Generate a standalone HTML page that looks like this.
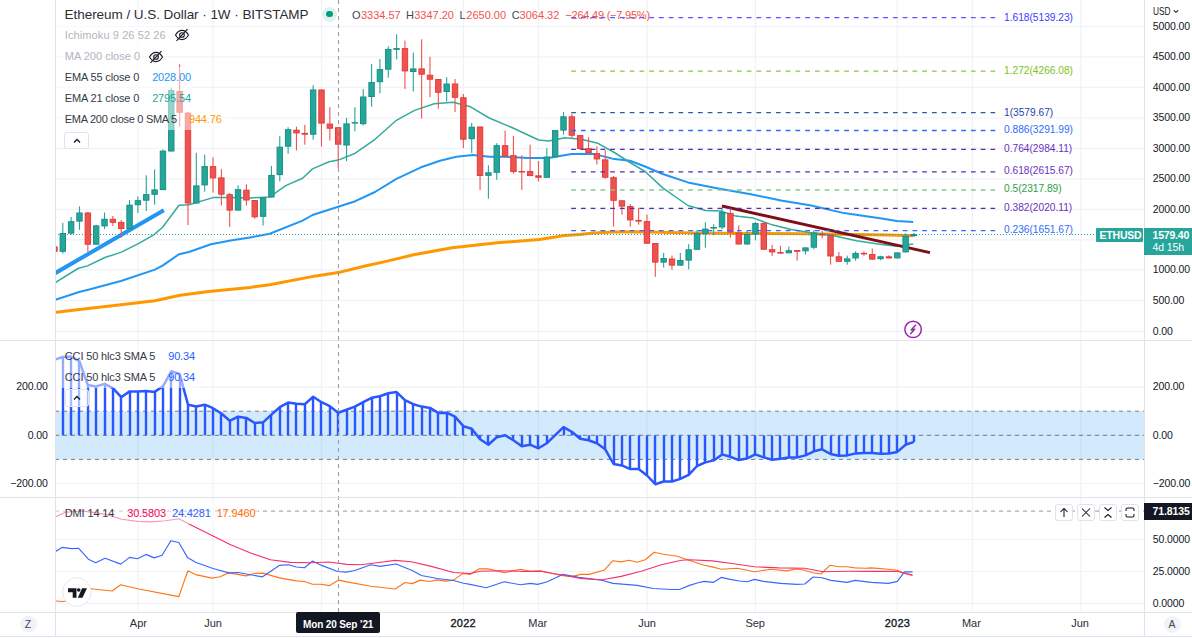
<!DOCTYPE html>
<html><head><meta charset="utf-8"><style>
html,body{margin:0;padding:0;background:#fff;width:1192px;height:638px;overflow:hidden;}
body{position:relative;font-family:"Liberation Sans",sans-serif;color:#131722;}
.t{position:absolute;white-space:nowrap;line-height:1;}
.ax{font-size:10.5px;letter-spacing:-0.1px;color:#131722;}
.lg{position:absolute;white-space:nowrap;font-size:11px;color:#363a45;line-height:21px;height:21px;background:rgba(255,255,255,0.5);padding:0 3px 0 9px;letter-spacing:-0.15px;}
.btn{position:absolute;box-sizing:border-box;border:1px solid #e0e3eb;border-radius:3px;background:rgba(255,255,255,0.6);}
</style></head><body>

<svg width="1192" height="638" style="position:absolute;left:0;top:0">
<defs><clipPath id="cm"><rect x="56" y="0" width="1088" height="340"/></clipPath><clipPath id="cc"><rect x="56" y="341" width="1088" height="156"/></clipPath><clipPath id="cd"><rect x="56" y="498" width="1088" height="114"/></clipPath></defs>
<g stroke="#f1f2f5" stroke-width="1.2">
<line x1="137.9" y1="0" x2="137.9" y2="612"/>
<line x1="213.0" y1="0" x2="213.0" y2="612"/>
<line x1="321.5" y1="0" x2="321.5" y2="612"/>
<line x1="463.4" y1="0" x2="463.4" y2="612"/>
<line x1="538.5" y1="0" x2="538.5" y2="612"/>
<line x1="647.0" y1="0" x2="647.0" y2="612"/>
<line x1="755.4" y1="0" x2="755.4" y2="612"/>
<line x1="897.3" y1="0" x2="897.3" y2="612"/>
<line x1="972.4" y1="0" x2="972.4" y2="612"/>
<line x1="1080.9" y1="0" x2="1080.9" y2="612"/>
<line x1="55" y1="26.5" x2="1144" y2="26.5"/>
<line x1="55" y1="56.8" x2="1144" y2="56.8"/>
<line x1="55" y1="87.4" x2="1144" y2="87.4"/>
<line x1="55" y1="118.0" x2="1144" y2="118.0"/>
<line x1="55" y1="148.4" x2="1144" y2="148.4"/>
<line x1="55" y1="178.8" x2="1144" y2="178.8"/>
<line x1="55" y1="209.4" x2="1144" y2="209.4"/>
<line x1="55" y1="239.8" x2="1144" y2="239.8"/>
<line x1="55" y1="269.9" x2="1144" y2="269.9"/>
<line x1="55" y1="300.6" x2="1144" y2="300.6"/>
<line x1="55" y1="331.3" x2="1144" y2="331.3"/>
<line x1="55" y1="387.2" x2="1144" y2="387.2"/>
<line x1="55" y1="435.3" x2="1144" y2="435.3"/>
<line x1="55" y1="483.5" x2="1144" y2="483.5"/>
<line x1="55" y1="539.5" x2="1144" y2="539.5"/>
<line x1="55" y1="571.5" x2="1144" y2="571.5"/>
<line x1="55" y1="603.4" x2="1144" y2="603.4"/>
</g>
<rect x="56" y="411.2" width="1088" height="48.2" fill="rgba(33,150,243,0.2)"/>
<line x1="55" y1="411.2" x2="1144" y2="411.2" stroke="#787b86" stroke-width="1" stroke-dasharray="4 4"/>
<line x1="55" y1="435.3" x2="1144" y2="435.3" stroke="#787b86" stroke-width="1" stroke-dasharray="4 4"/>
<line x1="55" y1="459.4" x2="1144" y2="459.4" stroke="#787b86" stroke-width="1" stroke-dasharray="4 4"/>
<g clip-path="url(#cm)">
<polyline points="55.0,312.4 56.1,312.2 88.0,308.4 120.9,304.7 154.9,300.7 180.1,295.3 208.7,291.5 250.0,287.4 269.7,284.7 315.8,275.9 338.2,272.6 365.1,266.0 385.0,261.6 413.6,254.8 452.1,247.8 497.4,242.8 539.4,239.4 564.6,235.6 580.0,234.4 593.6,233.0 613.7,232.1 643.2,231.8 667.4,232.5 694.2,233.0 720.0,233.2 803.9,233.7 887.8,235.1 913.0,235.8" fill="none" stroke="#ff9800" stroke-width="3" stroke-linejoin="round"/>
<polyline points="55.0,300.0 56.1,299.6 79.1,292.0 90.1,289.3 120.9,281.0 154.9,269.6 162.6,265.6 179.0,254.2 188.9,252.0 210.9,244.3 230.6,240.4 250.0,237.4 269.7,233.8 302.6,220.6 312.5,215.0 338.2,206.8 355.3,201.2 375.0,192.0 396.4,178.8 421.0,167.3 440.0,160.7 456.4,156.8 472.9,155.1 489.3,156.8 505.8,156.8 528.8,158.1 548.6,158.1 571.6,154.1 594.6,154.1 614.3,159.1 630.0,160.7 645.1,166.5 662.7,174.0 687.9,182.4 718.1,188.4 750.8,194.2 781.0,200.5 811.2,205.5 843.9,213.1 881.7,218.6 896.8,221.1 913.2,221.9" fill="none" stroke="#2196f3" stroke-width="2" stroke-linejoin="round"/>
<polyline points="55.0,283.0 56.1,282.1 78.0,268.5 88.0,265.6 105.5,257.3 120.9,252.4 138.4,243.7 153.8,234.9 162.6,227.2 179.0,205.2 188.9,204.8 213.0,197.6 230.6,197.6 250.0,197.9 269.7,196.9 286.2,185.4 302.6,178.2 312.5,168.9 329.0,161.7 338.2,160.1 355.3,153.2 375.0,139.3 396.4,120.3 414.5,110.4 434.2,103.8 453.2,102.2 469.6,106.4 489.3,118.0 512.4,127.8 538.7,140.0 548.6,141.0 565.0,137.7 581.4,139.3 597.9,143.3 614.3,152.5 630.8,163.0 645.1,171.5 662.7,187.9 687.9,205.5 705.5,210.5 720.6,211.0 735.7,216.1 753.3,218.1 771.0,224.4 791.1,229.4 811.2,232.7 831.4,235.2 856.5,240.7 881.7,244.5 896.8,246.3 913.2,244.0" fill="none" stroke="#33ab9d" stroke-width="1.5" stroke-linejoin="round"/>
</g>
<line x1="55" y1="234.5" x2="1144" y2="234.5" stroke="#26a69a" stroke-width="1" stroke-dasharray="1 2"/>
<g clip-path="url(#cm)"><line x1="56.8" y1="272.2" x2="162.1" y2="211.2" stroke="#2196f3" stroke-width="4" stroke-linecap="square"/></g>
<line x1="721.9" y1="206" x2="930" y2="252.6" stroke="#7f0f14" stroke-width="3"/>
<g clip-path="url(#cm)">
<rect x="53.91" y="240.0" width="1.1" height="12.0" fill="#ef5350"/>
<rect x="51.75" y="246.9" width="5.4" height="4.4" fill="#ef5350" stroke="#e23c3a" stroke-width="1"/>
<rect x="62.25" y="222.8" width="1.1" height="30.8" fill="#26a69a"/>
<rect x="60.10" y="233.5" width="5.4" height="17.8" fill="#26a69a" stroke="#1a9084" stroke-width="1"/>
<rect x="70.59" y="217.0" width="1.1" height="17.8" fill="#26a69a"/>
<rect x="68.44" y="221.7" width="5.4" height="11.4" fill="#26a69a" stroke="#1a9084" stroke-width="1"/>
<rect x="78.94" y="206.4" width="1.1" height="23.5" fill="#26a69a"/>
<rect x="76.79" y="213.0" width="5.4" height="8.1" fill="#26a69a" stroke="#1a9084" stroke-width="1"/>
<rect x="87.29" y="212.0" width="1.1" height="39.8" fill="#ef5350"/>
<rect x="85.14" y="213.0" width="5.4" height="31.2" fill="#ef5350" stroke="#e23c3a" stroke-width="1"/>
<rect x="95.63" y="224.7" width="1.1" height="20.0" fill="#26a69a"/>
<rect x="93.48" y="225.9" width="5.4" height="18.3" fill="#26a69a" stroke="#1a9084" stroke-width="1"/>
<rect x="103.98" y="212.5" width="1.1" height="16.5" fill="#26a69a"/>
<rect x="101.83" y="219.3" width="5.4" height="6.6" fill="#26a69a" stroke="#1a9084" stroke-width="1"/>
<rect x="112.32" y="216.0" width="1.1" height="9.9" fill="#ef5350"/>
<rect x="110.17" y="219.3" width="5.4" height="3.0" fill="#ef5350" stroke="#e23c3a" stroke-width="1"/>
<rect x="120.67" y="220.0" width="1.1" height="17.6" fill="#ef5350"/>
<rect x="118.52" y="222.4" width="5.4" height="6.1" fill="#ef5350" stroke="#e23c3a" stroke-width="1"/>
<rect x="129.01" y="200.0" width="1.1" height="29.0" fill="#26a69a"/>
<rect x="126.86" y="205.2" width="5.4" height="23.3" fill="#26a69a" stroke="#1a9084" stroke-width="1"/>
<rect x="137.35" y="196.5" width="1.1" height="16.5" fill="#26a69a"/>
<rect x="135.21" y="200.7" width="5.4" height="4.0" fill="#26a69a" stroke="#1a9084" stroke-width="1"/>
<rect x="145.70" y="175.3" width="1.1" height="35.7" fill="#26a69a"/>
<rect x="143.55" y="194.6" width="5.4" height="5.6" fill="#26a69a" stroke="#1a9084" stroke-width="1"/>
<rect x="154.04" y="169.4" width="1.1" height="35.3" fill="#26a69a"/>
<rect x="151.90" y="189.9" width="5.4" height="4.4" fill="#26a69a" stroke="#1a9084" stroke-width="1"/>
<rect x="162.39" y="149.4" width="1.1" height="40.7" fill="#26a69a"/>
<rect x="160.24" y="151.1" width="5.4" height="38.5" fill="#26a69a" stroke="#1a9084" stroke-width="1"/>
<rect x="170.74" y="87.6" width="1.1" height="63.9" fill="#26a69a"/>
<rect x="168.59" y="90.5" width="5.4" height="60.5" fill="#26a69a" stroke="#1a9084" stroke-width="1"/>
<rect x="179.08" y="64.2" width="1.1" height="62.3" fill="#ef5350"/>
<rect x="176.93" y="91.5" width="5.4" height="20.7" fill="#ef5350" stroke="#e23c3a" stroke-width="1"/>
<rect x="187.43" y="112.0" width="1.1" height="113.1" fill="#ef5350"/>
<rect x="185.28" y="113.1" width="5.4" height="89.9" fill="#ef5350" stroke="#e23c3a" stroke-width="1"/>
<rect x="195.77" y="152.8" width="1.1" height="50.7" fill="#26a69a"/>
<rect x="193.62" y="185.9" width="5.4" height="17.1" fill="#26a69a" stroke="#1a9084" stroke-width="1"/>
<rect x="204.12" y="154.6" width="1.1" height="37.1" fill="#26a69a"/>
<rect x="201.97" y="166.6" width="5.4" height="18.3" fill="#26a69a" stroke="#1a9084" stroke-width="1"/>
<rect x="212.46" y="157.3" width="1.1" height="35.2" fill="#ef5350"/>
<rect x="210.31" y="166.6" width="5.4" height="11.3" fill="#ef5350" stroke="#e23c3a" stroke-width="1"/>
<rect x="220.81" y="169.1" width="1.1" height="36.4" fill="#ef5350"/>
<rect x="218.66" y="177.9" width="5.4" height="16.3" fill="#ef5350" stroke="#e23c3a" stroke-width="1"/>
<rect x="229.15" y="193.0" width="1.1" height="33.9" fill="#ef5350"/>
<rect x="227.00" y="194.7" width="5.4" height="15.4" fill="#ef5350" stroke="#e23c3a" stroke-width="1"/>
<rect x="237.50" y="185.4" width="1.1" height="25.2" fill="#26a69a"/>
<rect x="235.35" y="189.7" width="5.4" height="20.4" fill="#26a69a" stroke="#1a9084" stroke-width="1"/>
<rect x="245.84" y="184.2" width="1.1" height="21.3" fill="#ef5350"/>
<rect x="243.69" y="190.2" width="5.4" height="9.8" fill="#ef5350" stroke="#e23c3a" stroke-width="1"/>
<rect x="254.19" y="200.0" width="1.1" height="18.8" fill="#ef5350"/>
<rect x="252.04" y="200.5" width="5.4" height="16.3" fill="#ef5350" stroke="#e23c3a" stroke-width="1"/>
<rect x="262.53" y="197.5" width="1.1" height="28.1" fill="#26a69a"/>
<rect x="260.38" y="198.0" width="5.4" height="18.3" fill="#26a69a" stroke="#1a9084" stroke-width="1"/>
<rect x="270.88" y="166.0" width="1.1" height="31.5" fill="#26a69a"/>
<rect x="268.73" y="175.4" width="5.4" height="21.6" fill="#26a69a" stroke="#1a9084" stroke-width="1"/>
<rect x="279.22" y="136.2" width="1.1" height="45.2" fill="#26a69a"/>
<rect x="277.07" y="147.2" width="5.4" height="27.4" fill="#26a69a" stroke="#1a9084" stroke-width="1"/>
<rect x="287.56" y="127.2" width="1.1" height="26.6" fill="#26a69a"/>
<rect x="285.42" y="129.7" width="5.4" height="16.5" fill="#26a69a" stroke="#1a9084" stroke-width="1"/>
<rect x="295.91" y="126.7" width="1.1" height="23.8" fill="#ef5350"/>
<rect x="293.76" y="130.2" width="5.4" height="2.7" fill="#ef5350" stroke="#e23c3a" stroke-width="1"/>
<rect x="304.25" y="124.9" width="1.1" height="19.8" fill="#ef5350"/>
<rect x="301.61" y="132.9" width="6.4" height="1.8" fill="#e23c3a"/>
<rect x="312.60" y="85.2" width="1.1" height="54.5" fill="#26a69a"/>
<rect x="310.45" y="90.0" width="5.4" height="44.2" fill="#26a69a" stroke="#1a9084" stroke-width="1"/>
<rect x="320.94" y="89.5" width="1.1" height="57.2" fill="#ef5350"/>
<rect x="318.80" y="90.0" width="5.4" height="33.1" fill="#ef5350" stroke="#e23c3a" stroke-width="1"/>
<rect x="329.29" y="107.1" width="1.1" height="33.4" fill="#ef5350"/>
<rect x="327.14" y="124.1" width="5.4" height="4.1" fill="#ef5350" stroke="#e23c3a" stroke-width="1"/>
<rect x="337.64" y="127.2" width="1.1" height="40.9" fill="#ef5350"/>
<rect x="335.49" y="127.7" width="5.4" height="16.5" fill="#ef5350" stroke="#e23c3a" stroke-width="1"/>
<rect x="345.98" y="117.9" width="1.1" height="43.2" fill="#26a69a"/>
<rect x="343.83" y="123.9" width="5.4" height="21.1" fill="#26a69a" stroke="#1a9084" stroke-width="1"/>
<rect x="354.33" y="107.1" width="1.1" height="24.1" fill="#26a69a"/>
<rect x="351.68" y="122.1" width="6.4" height="1.5" fill="#1a9084"/>
<rect x="362.67" y="89.0" width="1.1" height="36.4" fill="#26a69a"/>
<rect x="360.52" y="97.0" width="5.4" height="26.7" fill="#26a69a" stroke="#1a9084" stroke-width="1"/>
<rect x="371.02" y="63.9" width="1.1" height="42.7" fill="#26a69a"/>
<rect x="368.87" y="82.5" width="5.4" height="14.0" fill="#26a69a" stroke="#1a9084" stroke-width="1"/>
<rect x="379.36" y="58.9" width="1.1" height="34.5" fill="#26a69a"/>
<rect x="377.21" y="69.6" width="5.4" height="12.1" fill="#26a69a" stroke="#1a9084" stroke-width="1"/>
<rect x="387.71" y="46.3" width="1.1" height="31.4" fill="#26a69a"/>
<rect x="385.56" y="49.4" width="5.4" height="19.8" fill="#26a69a" stroke="#1a9084" stroke-width="1"/>
<rect x="396.05" y="34.3" width="1.1" height="25.1" fill="#26a69a"/>
<rect x="393.40" y="48.1" width="6.4" height="1.8" fill="#1a9084"/>
<rect x="404.40" y="40.6" width="1.1" height="48.4" fill="#ef5350"/>
<rect x="402.25" y="48.6" width="5.4" height="22.3" fill="#ef5350" stroke="#e23c3a" stroke-width="1"/>
<rect x="412.74" y="52.6" width="1.1" height="38.9" fill="#26a69a"/>
<rect x="410.59" y="68.9" width="5.4" height="2.6" fill="#26a69a" stroke="#1a9084" stroke-width="1"/>
<rect x="421.09" y="39.3" width="1.1" height="79.3" fill="#ef5350"/>
<rect x="418.94" y="68.9" width="5.4" height="5.3" fill="#ef5350" stroke="#e23c3a" stroke-width="1"/>
<rect x="429.43" y="56.9" width="1.1" height="40.2" fill="#ef5350"/>
<rect x="427.28" y="75.2" width="5.4" height="4.0" fill="#ef5350" stroke="#e23c3a" stroke-width="1"/>
<rect x="437.78" y="79.0" width="1.1" height="29.6" fill="#ef5350"/>
<rect x="435.63" y="79.5" width="5.4" height="12.8" fill="#ef5350" stroke="#e23c3a" stroke-width="1"/>
<rect x="446.12" y="77.2" width="1.1" height="24.4" fill="#26a69a"/>
<rect x="443.97" y="84.0" width="5.4" height="7.5" fill="#26a69a" stroke="#1a9084" stroke-width="1"/>
<rect x="454.47" y="79.0" width="1.1" height="33.1" fill="#ef5350"/>
<rect x="452.32" y="84.0" width="5.4" height="13.3" fill="#ef5350" stroke="#e23c3a" stroke-width="1"/>
<rect x="462.81" y="94.0" width="1.1" height="54.0" fill="#ef5350"/>
<rect x="460.66" y="97.8" width="5.4" height="41.4" fill="#ef5350" stroke="#e23c3a" stroke-width="1"/>
<rect x="471.16" y="122.9" width="1.1" height="30.1" fill="#26a69a"/>
<rect x="469.01" y="127.2" width="5.4" height="11.5" fill="#26a69a" stroke="#1a9084" stroke-width="1"/>
<rect x="479.50" y="126.5" width="1.1" height="63.4" fill="#ef5350"/>
<rect x="477.35" y="127.0" width="5.4" height="48.5" fill="#ef5350" stroke="#e23c3a" stroke-width="1"/>
<rect x="487.85" y="165.3" width="1.1" height="33.4" fill="#26a69a"/>
<rect x="485.70" y="172.8" width="5.4" height="2.5" fill="#26a69a" stroke="#1a9084" stroke-width="1"/>
<rect x="496.19" y="143.2" width="1.1" height="36.6" fill="#26a69a"/>
<rect x="494.04" y="145.7" width="5.4" height="26.6" fill="#26a69a" stroke="#1a9084" stroke-width="1"/>
<rect x="504.54" y="130.6" width="1.1" height="27.1" fill="#ef5350"/>
<rect x="502.39" y="145.7" width="5.4" height="10.3" fill="#ef5350" stroke="#e23c3a" stroke-width="1"/>
<rect x="512.88" y="135.9" width="1.1" height="37.7" fill="#ef5350"/>
<rect x="510.73" y="155.7" width="5.4" height="15.8" fill="#ef5350" stroke="#e23c3a" stroke-width="1"/>
<rect x="521.23" y="155.2" width="1.1" height="34.7" fill="#ef5350"/>
<rect x="518.57" y="171.0" width="6.4" height="1.5" fill="#e23c3a"/>
<rect x="529.57" y="144.7" width="1.1" height="31.4" fill="#ef5350"/>
<rect x="527.42" y="171.5" width="5.4" height="4.1" fill="#ef5350" stroke="#e23c3a" stroke-width="1"/>
<rect x="537.92" y="161.0" width="1.1" height="20.6" fill="#ef5350"/>
<rect x="535.26" y="175.3" width="6.4" height="2.5" fill="#e23c3a"/>
<rect x="546.26" y="148.2" width="1.1" height="29.6" fill="#26a69a"/>
<rect x="544.11" y="157.0" width="5.4" height="20.3" fill="#26a69a" stroke="#1a9084" stroke-width="1"/>
<rect x="554.61" y="130.1" width="1.1" height="27.1" fill="#26a69a"/>
<rect x="552.45" y="130.6" width="5.4" height="26.1" fill="#26a69a" stroke="#1a9084" stroke-width="1"/>
<rect x="562.95" y="112.0" width="1.1" height="22.6" fill="#26a69a"/>
<rect x="560.80" y="116.8" width="5.4" height="13.3" fill="#26a69a" stroke="#1a9084" stroke-width="1"/>
<rect x="571.30" y="113.8" width="1.1" height="23.9" fill="#ef5350"/>
<rect x="569.14" y="116.8" width="5.4" height="18.4" fill="#ef5350" stroke="#e23c3a" stroke-width="1"/>
<rect x="579.64" y="135.1" width="1.1" height="14.9" fill="#ef5350"/>
<rect x="577.49" y="135.6" width="5.4" height="12.9" fill="#ef5350" stroke="#e23c3a" stroke-width="1"/>
<rect x="587.99" y="137.2" width="1.1" height="16.8" fill="#ef5350"/>
<rect x="585.83" y="148.7" width="5.4" height="4.0" fill="#ef5350" stroke="#e23c3a" stroke-width="1"/>
<rect x="596.33" y="146.3" width="1.1" height="18.1" fill="#ef5350"/>
<rect x="594.18" y="153.6" width="5.4" height="5.3" fill="#ef5350" stroke="#e23c3a" stroke-width="1"/>
<rect x="604.68" y="150.1" width="1.1" height="28.4" fill="#ef5350"/>
<rect x="602.52" y="159.9" width="5.4" height="17.3" fill="#ef5350" stroke="#e23c3a" stroke-width="1"/>
<rect x="613.02" y="176.0" width="1.1" height="50.7" fill="#ef5350"/>
<rect x="610.87" y="177.7" width="5.4" height="22.6" fill="#ef5350" stroke="#e23c3a" stroke-width="1"/>
<rect x="621.37" y="200.3" width="1.1" height="14.3" fill="#ef5350"/>
<rect x="619.21" y="200.8" width="5.4" height="5.3" fill="#ef5350" stroke="#e23c3a" stroke-width="1"/>
<rect x="629.71" y="204.1" width="1.1" height="22.6" fill="#ef5350"/>
<rect x="627.56" y="206.6" width="5.4" height="13.3" fill="#ef5350" stroke="#e23c3a" stroke-width="1"/>
<rect x="638.06" y="207.8" width="1.1" height="16.9" fill="#ef5350"/>
<rect x="635.40" y="219.9" width="6.4" height="1.7" fill="#e23c3a"/>
<rect x="646.40" y="214.6" width="1.1" height="29.1" fill="#ef5350"/>
<rect x="644.25" y="221.6" width="5.4" height="21.6" fill="#ef5350" stroke="#e23c3a" stroke-width="1"/>
<rect x="654.75" y="243.0" width="1.1" height="33.9" fill="#ef5350"/>
<rect x="652.59" y="243.5" width="5.4" height="18.6" fill="#ef5350" stroke="#e23c3a" stroke-width="1"/>
<rect x="663.09" y="253.0" width="1.1" height="14.6" fill="#26a69a"/>
<rect x="660.94" y="258.5" width="5.4" height="3.6" fill="#26a69a" stroke="#1a9084" stroke-width="1"/>
<rect x="671.44" y="255.5" width="1.1" height="14.3" fill="#ef5350"/>
<rect x="669.28" y="259.0" width="5.4" height="6.1" fill="#ef5350" stroke="#e23c3a" stroke-width="1"/>
<rect x="679.78" y="253.0" width="1.1" height="13.0" fill="#26a69a"/>
<rect x="677.63" y="260.5" width="5.4" height="4.6" fill="#26a69a" stroke="#1a9084" stroke-width="1"/>
<rect x="688.12" y="244.2" width="1.1" height="25.1" fill="#26a69a"/>
<rect x="685.97" y="249.8" width="5.4" height="10.3" fill="#26a69a" stroke="#1a9084" stroke-width="1"/>
<rect x="696.47" y="229.9" width="1.1" height="19.9" fill="#26a69a"/>
<rect x="694.32" y="233.4" width="5.4" height="15.9" fill="#26a69a" stroke="#1a9084" stroke-width="1"/>
<rect x="704.82" y="222.3" width="1.1" height="25.4" fill="#26a69a"/>
<rect x="702.66" y="229.1" width="5.4" height="4.4" fill="#26a69a" stroke="#1a9084" stroke-width="1"/>
<rect x="713.16" y="224.2" width="1.1" height="10.9" fill="#26a69a"/>
<rect x="710.51" y="227.0" width="6.4" height="1.6" fill="#1a9084"/>
<rect x="721.50" y="208.2" width="1.1" height="21.1" fill="#26a69a"/>
<rect x="719.35" y="212.6" width="5.4" height="14.4" fill="#26a69a" stroke="#1a9084" stroke-width="1"/>
<rect x="729.85" y="209.0" width="1.1" height="28.7" fill="#ef5350"/>
<rect x="727.70" y="213.4" width="5.4" height="18.6" fill="#ef5350" stroke="#e23c3a" stroke-width="1"/>
<rect x="738.20" y="225.4" width="1.1" height="19.1" fill="#ef5350"/>
<rect x="736.04" y="233.0" width="5.4" height="11.0" fill="#ef5350" stroke="#e23c3a" stroke-width="1"/>
<rect x="746.54" y="230.9" width="1.1" height="13.6" fill="#26a69a"/>
<rect x="744.39" y="234.5" width="5.4" height="9.5" fill="#26a69a" stroke="#1a9084" stroke-width="1"/>
<rect x="754.89" y="222.0" width="1.1" height="18.3" fill="#26a69a"/>
<rect x="752.74" y="223.6" width="5.4" height="10.4" fill="#26a69a" stroke="#1a9084" stroke-width="1"/>
<rect x="763.23" y="222.0" width="1.1" height="27.7" fill="#ef5350"/>
<rect x="761.08" y="223.6" width="5.4" height="25.6" fill="#ef5350" stroke="#e23c3a" stroke-width="1"/>
<rect x="771.58" y="245.0" width="1.1" height="11.0" fill="#ef5350"/>
<rect x="769.42" y="249.7" width="5.4" height="2.2" fill="#ef5350" stroke="#e23c3a" stroke-width="1"/>
<rect x="779.92" y="245.8" width="1.1" height="8.2" fill="#ef5350"/>
<rect x="777.27" y="252.0" width="6.4" height="1.6" fill="#e23c3a"/>
<rect x="788.27" y="246.6" width="1.1" height="6.7" fill="#26a69a"/>
<rect x="786.12" y="250.7" width="5.4" height="2.1" fill="#26a69a" stroke="#1a9084" stroke-width="1"/>
<rect x="796.61" y="250.0" width="1.1" height="10.7" fill="#ef5350"/>
<rect x="793.96" y="250.0" width="6.4" height="1.8" fill="#e23c3a"/>
<rect x="804.96" y="247.4" width="1.1" height="7.0" fill="#26a69a"/>
<rect x="802.80" y="247.9" width="5.4" height="2.9" fill="#26a69a" stroke="#1a9084" stroke-width="1"/>
<rect x="813.30" y="230.2" width="1.1" height="19.2" fill="#26a69a"/>
<rect x="811.15" y="233.0" width="5.4" height="14.2" fill="#26a69a" stroke="#1a9084" stroke-width="1"/>
<rect x="821.65" y="231.0" width="1.1" height="7.3" fill="#ef5350"/>
<rect x="819.00" y="233.8" width="6.4" height="1.5" fill="#e23c3a"/>
<rect x="829.99" y="234.9" width="1.1" height="29.8" fill="#ef5350"/>
<rect x="827.84" y="235.4" width="5.4" height="20.6" fill="#ef5350" stroke="#e23c3a" stroke-width="1"/>
<rect x="838.34" y="252.1" width="1.1" height="9.7" fill="#ef5350"/>
<rect x="836.18" y="256.8" width="5.4" height="4.5" fill="#ef5350" stroke="#e23c3a" stroke-width="1"/>
<rect x="846.68" y="255.6" width="1.1" height="9.1" fill="#26a69a"/>
<rect x="844.53" y="258.9" width="5.4" height="2.4" fill="#26a69a" stroke="#1a9084" stroke-width="1"/>
<rect x="855.03" y="251.3" width="1.1" height="9.4" fill="#26a69a"/>
<rect x="852.88" y="253.4" width="5.4" height="4.5" fill="#26a69a" stroke="#1a9084" stroke-width="1"/>
<rect x="863.37" y="251.3" width="1.1" height="4.4" fill="#ef5350"/>
<rect x="860.72" y="252.9" width="6.4" height="1.5" fill="#e23c3a"/>
<rect x="871.72" y="248.5" width="1.1" height="11.5" fill="#ef5350"/>
<rect x="869.56" y="254.5" width="5.4" height="4.6" fill="#ef5350" stroke="#e23c3a" stroke-width="1"/>
<rect x="880.06" y="255.7" width="1.1" height="4.6" fill="#26a69a"/>
<rect x="877.91" y="256.8" width="5.4" height="1.9" fill="#26a69a" stroke="#1a9084" stroke-width="1"/>
<rect x="888.41" y="255.2" width="1.1" height="3.2" fill="#ef5350"/>
<rect x="885.75" y="256.3" width="6.4" height="2.1" fill="#e23c3a"/>
<rect x="896.75" y="252.4" width="1.1" height="6.0" fill="#26a69a"/>
<rect x="894.60" y="252.9" width="5.4" height="5.0" fill="#26a69a" stroke="#1a9084" stroke-width="1"/>
<rect x="905.10" y="233.3" width="1.1" height="19.1" fill="#26a69a"/>
<rect x="902.94" y="236.2" width="5.4" height="15.7" fill="#26a69a" stroke="#1a9084" stroke-width="1"/>
<rect x="913.44" y="233.0" width="1.1" height="4.0" fill="#26a69a"/>
<rect x="910.79" y="234.1" width="6.4" height="2.0" fill="#1a9084"/>
</g>
<line x1="571.2" y1="17.6" x2="997.5" y2="17.6" stroke="#5555ff" stroke-width="1.3" stroke-dasharray="4.75 5"/>
<line x1="571.2" y1="71.2" x2="997.5" y2="71.2" stroke="#8cc63f" stroke-width="1.3" stroke-dasharray="4.75 5"/>
<line x1="571.2" y1="112.6" x2="997.5" y2="112.6" stroke="#2c5aa8" stroke-width="1.3" stroke-dasharray="4.75 5"/>
<line x1="571.2" y1="130.5" x2="997.5" y2="130.5" stroke="#2f6bff" stroke-width="1.3" stroke-dasharray="4.75 5"/>
<line x1="571.2" y1="149.3" x2="997.5" y2="149.3" stroke="#5b2ab5" stroke-width="1.3" stroke-dasharray="4.75 5"/>
<line x1="571.2" y1="171.8" x2="997.5" y2="171.8" stroke="#5b2ab5" stroke-width="1.3" stroke-dasharray="4.75 5"/>
<line x1="571.2" y1="190.0" x2="997.5" y2="190.0" stroke="#86c98a" stroke-width="1.3" stroke-dasharray="4.75 5"/>
<line x1="571.2" y1="208.4" x2="997.5" y2="208.4" stroke="#5b2ab5" stroke-width="1.3" stroke-dasharray="4.75 5"/>
<line x1="571.2" y1="230.6" x2="997.5" y2="230.6" stroke="#2f6bff" stroke-width="1.3" stroke-dasharray="4.75 5"/>
<g fill="#2957ff" clip-path="url(#cc)">
<rect x="61.8" y="357.0" width="2.4" height="78.3"/>
<rect x="69.8" y="356.6" width="2.4" height="78.7"/>
<rect x="77.8" y="361.3" width="2.4" height="74.0"/>
<rect x="86.8" y="385.1" width="2.4" height="50.2"/>
<rect x="94.8" y="386.4" width="2.4" height="48.9"/>
<rect x="103.8" y="383.9" width="2.4" height="51.4"/>
<rect x="111.8" y="388.2" width="2.4" height="47.1"/>
<rect x="119.8" y="397.2" width="2.4" height="38.1"/>
<rect x="128.8" y="391.4" width="2.4" height="43.9"/>
<rect x="136.8" y="391.4" width="2.4" height="43.9"/>
<rect x="144.8" y="390.9" width="2.4" height="44.4"/>
<rect x="153.8" y="391.9" width="2.4" height="43.4"/>
<rect x="161.8" y="386.4" width="2.4" height="48.9"/>
<rect x="169.8" y="371.3" width="2.4" height="64.0"/>
<rect x="178.8" y="373.9" width="2.4" height="61.4"/>
<rect x="186.8" y="404.7" width="2.4" height="30.6"/>
<rect x="194.8" y="406.5" width="2.4" height="28.8"/>
<rect x="203.8" y="404.7" width="2.4" height="30.6"/>
<rect x="211.8" y="408.2" width="2.4" height="27.1"/>
<rect x="219.8" y="413.5" width="2.4" height="21.8"/>
<rect x="228.8" y="420.8" width="2.4" height="14.5"/>
<rect x="236.8" y="416.7" width="2.4" height="18.6"/>
<rect x="244.8" y="417.9" width="2.4" height="17.4"/>
<rect x="253.8" y="423.0" width="2.4" height="12.3"/>
<rect x="261.8" y="422.3" width="2.4" height="13.0"/>
<rect x="269.8" y="414.7" width="2.4" height="20.6"/>
<rect x="278.8" y="407.2" width="2.4" height="28.1"/>
<rect x="286.8" y="402.6" width="2.4" height="32.7"/>
<rect x="294.8" y="403.8" width="2.4" height="31.5"/>
<rect x="303.8" y="404.2" width="2.4" height="31.1"/>
<rect x="311.8" y="396.8" width="2.4" height="38.5"/>
<rect x="319.8" y="402.2" width="2.4" height="33.1"/>
<rect x="328.8" y="406.2" width="2.4" height="29.1"/>
<rect x="336.8" y="412.7" width="2.4" height="22.6"/>
<rect x="345.8" y="409.7" width="2.4" height="25.6"/>
<rect x="353.8" y="406.6" width="2.4" height="28.7"/>
<rect x="361.8" y="402.2" width="2.4" height="33.1"/>
<rect x="370.8" y="397.8" width="2.4" height="37.5"/>
<rect x="378.8" y="396.2" width="2.4" height="39.1"/>
<rect x="386.8" y="393.2" width="2.4" height="42.1"/>
<rect x="395.8" y="392.1" width="2.4" height="43.2"/>
<rect x="403.8" y="400.2" width="2.4" height="35.1"/>
<rect x="411.8" y="404.2" width="2.4" height="31.1"/>
<rect x="420.8" y="406.6" width="2.4" height="28.7"/>
<rect x="428.8" y="407.9" width="2.4" height="27.4"/>
<rect x="436.8" y="412.9" width="2.4" height="22.4"/>
<rect x="445.8" y="412.7" width="2.4" height="22.6"/>
<rect x="453.8" y="416.7" width="2.4" height="18.6"/>
<rect x="461.8" y="426.2" width="2.4" height="9.1"/>
<rect x="470.8" y="428.8" width="2.4" height="6.5"/>
<rect x="478.8" y="435.3" width="2.4" height="4.0"/>
<rect x="486.8" y="435.3" width="2.4" height="9.4"/>
<rect x="495.8" y="435.3" width="2.4" height="1.9"/>
<rect x="503.8" y="435.2" width="2.4" height="0.1"/>
<rect x="511.8" y="435.3" width="2.4" height="5.0"/>
<rect x="520.8" y="435.3" width="2.4" height="11.0"/>
<rect x="528.8" y="435.3" width="2.4" height="9.4"/>
<rect x="536.8" y="435.3" width="2.4" height="13.0"/>
<rect x="545.8" y="435.3" width="2.4" height="8.0"/>
<rect x="553.8" y="435.2" width="2.4" height="0.1"/>
<rect x="562.8" y="427.2" width="2.4" height="8.1"/>
<rect x="570.8" y="431.8" width="2.4" height="3.5"/>
<rect x="578.8" y="435.3" width="2.4" height="3.4"/>
<rect x="587.8" y="435.3" width="2.4" height="5.0"/>
<rect x="595.8" y="435.3" width="2.4" height="8.0"/>
<rect x="603.8" y="435.3" width="2.4" height="14.0"/>
<rect x="612.8" y="435.3" width="2.4" height="28.7"/>
<rect x="620.8" y="435.3" width="2.4" height="30.1"/>
<rect x="628.8" y="435.3" width="2.4" height="33.8"/>
<rect x="637.8" y="435.3" width="2.4" height="33.8"/>
<rect x="645.8" y="435.3" width="2.4" height="40.2"/>
<rect x="653.8" y="435.3" width="2.4" height="48.9"/>
<rect x="662.8" y="435.3" width="2.4" height="46.2"/>
<rect x="670.8" y="435.3" width="2.4" height="46.2"/>
<rect x="678.8" y="435.3" width="2.4" height="43.6"/>
<rect x="687.8" y="435.3" width="2.4" height="39.6"/>
<rect x="695.8" y="435.3" width="2.4" height="30.7"/>
<rect x="703.8" y="435.3" width="2.4" height="27.1"/>
<rect x="712.8" y="435.3" width="2.4" height="25.1"/>
<rect x="720.8" y="435.3" width="2.4" height="19.1"/>
<rect x="728.8" y="435.3" width="2.4" height="21.5"/>
<rect x="737.8" y="435.3" width="2.4" height="24.7"/>
<rect x="745.8" y="435.3" width="2.4" height="23.1"/>
<rect x="753.8" y="435.3" width="2.4" height="19.1"/>
<rect x="762.8" y="435.3" width="2.4" height="22.1"/>
<rect x="770.8" y="435.3" width="2.4" height="24.5"/>
<rect x="778.8" y="435.3" width="2.4" height="23.5"/>
<rect x="787.8" y="435.3" width="2.4" height="22.1"/>
<rect x="795.8" y="435.3" width="2.4" height="22.1"/>
<rect x="804.8" y="435.3" width="2.4" height="20.1"/>
<rect x="812.8" y="435.3" width="2.4" height="16.0"/>
<rect x="820.8" y="435.3" width="2.4" height="14.0"/>
<rect x="829.8" y="435.3" width="2.4" height="18.7"/>
<rect x="837.8" y="435.3" width="2.4" height="20.5"/>
<rect x="845.8" y="435.3" width="2.4" height="20.1"/>
<rect x="854.8" y="435.3" width="2.4" height="18.1"/>
<rect x="862.8" y="435.3" width="2.4" height="17.6"/>
<rect x="870.8" y="435.3" width="2.4" height="17.6"/>
<rect x="879.8" y="435.3" width="2.4" height="18.5"/>
<rect x="887.8" y="435.3" width="2.4" height="18.1"/>
<rect x="895.8" y="435.3" width="2.4" height="16.6"/>
<rect x="904.8" y="435.3" width="2.4" height="9.4"/>
<rect x="912.8" y="435.3" width="2.4" height="6.6"/>
</g>
<polyline clip-path="url(#cc)" points="55.0,359.6 62.8,357.0 71.1,356.6 79.5,361.3 87.8,385.1 96.2,386.4 104.5,383.9 112.9,388.2 121.2,397.2 129.6,391.4 137.9,391.4 146.2,390.9 154.6,391.9 162.9,386.4 171.3,371.3 179.6,373.9 188.0,404.7 196.3,406.5 204.7,404.7 213.0,408.2 221.4,413.5 229.7,420.8 238.0,416.7 246.4,417.9 254.7,423.0 263.1,422.3 271.4,414.7 279.8,407.2 288.1,402.6 296.5,403.8 304.8,404.2 313.2,396.8 321.5,402.2 329.8,406.2 338.2,412.7 346.5,409.7 354.9,406.6 363.2,402.2 371.6,397.8 379.9,396.2 388.3,393.2 396.6,392.1 404.9,400.2 413.3,404.2 421.6,406.6 430.0,407.9 438.3,412.9 446.7,412.7 455.0,416.7 463.4,426.2 471.7,428.8 480.1,439.3 488.4,444.7 496.7,437.2 505.1,435.2 513.4,440.3 521.8,446.3 530.1,444.7 538.5,448.3 546.8,443.3 555.2,435.2 563.5,427.2 571.8,431.8 580.2,438.7 588.5,440.3 596.9,443.3 605.2,449.3 613.6,464.0 621.9,465.4 630.3,469.1 638.6,469.1 647.0,475.5 655.3,484.2 663.6,481.5 672.0,481.5 680.3,478.9 688.7,474.9 697.0,466.0 705.4,462.4 713.7,460.4 722.1,454.4 730.4,456.8 738.7,460.0 747.1,458.4 755.4,454.4 763.8,457.4 772.1,459.8 780.5,458.8 788.8,457.4 797.2,457.4 805.5,455.4 813.9,451.3 822.2,449.3 830.5,454.0 838.9,455.8 847.2,455.4 855.6,453.4 863.9,452.9 872.3,452.9 880.6,453.8 889.0,453.4 897.3,451.9 905.6,444.7 914.0,441.9" fill="none" stroke="#2957ff" stroke-width="2.5" stroke-linejoin="round"/>
<g clip-path="url(#cd)">
<polyline points="55.0,601.0 55.9,601.0 62.0,601.5 70.0,600.5 80.0,594.0 91.0,588.7 112.1,591.0 120.8,584.8 137.5,588.7 178.8,596.6 187.9,570.8 195.5,574.6 212.2,578.1 220.0,576.7 228.8,572.9 246.1,575.9 254.2,573.5 263.2,573.1 279.3,577.9 296.4,580.9 304.5,581.5 312.5,584.2 320.6,584.2 329.7,585.6 338.7,580.1 346.8,581.9 370.9,586.2 395.1,589.0 405.2,582.5 412.2,583.6 420.3,580.1 429.3,581.5 437.4,579.9 445.4,581.1 453.5,580.1 463.0,573.4 470.1,574.4 479.1,568.7 488.2,568.9 504.3,572.7 520.4,569.3 530.5,571.3 540.5,570.9 554.6,574.0 562.7,575.8 572.7,576.4 580.8,574.4 588.9,574.4 604.0,570.3 613.0,560.7 621.1,561.9 629.1,560.3 637.2,562.3 645.2,559.7 654.3,552.2 663.3,554.2 677.4,556.2 687.5,559.7 704.1,565.3 712.1,566.9 721.2,569.3 737.3,568.3 754.4,571.7 770.5,569.3 786.6,570.9 796.7,568.9 804.8,570.3 812.8,572.7 820.9,574.0 829.9,565.3 839.0,566.7 847.0,566.7 855.1,567.9 865.2,568.3 871.2,567.9 888.3,569.3 897.4,570.3 904.4,573.4 912.5,574.8" fill="none" stroke="#ff7417" stroke-width="1.15" stroke-linejoin="round"/>
<polyline points="55.0,552.0 55.9,551.3 62.0,547.4 71.7,548.6 78.7,548.3 88.4,559.2 95.7,562.7 105.0,558.3 120.8,564.1 129.6,557.4 137.5,558.8 146.0,554.4 154.2,557.9 162.1,555.3 170.9,540.7 178.8,542.5 187.6,557.6 195.5,562.3 213.0,568.5 228.8,572.9 238.1,572.5 262.2,576.9 279.3,565.4 288.4,564.8 296.4,567.0 304.5,567.8 312.5,561.0 321.6,565.4 337.7,571.5 345.8,572.1 354.8,570.5 370.9,564.8 380.0,566.4 396.1,564.0 412.2,570.5 421.3,575.5 437.4,578.5 453.5,580.5 463.5,583.3 470.1,584.4 486.2,587.8 504.3,581.8 520.4,584.8 530.5,583.4 537.5,584.4 546.6,582.0 562.7,574.4 578.8,577.4 600.9,580.0 613.0,583.4 637.2,585.4 653.3,588.5 671.4,589.5 679.5,589.5 689.5,585.4 698.1,582.8 704.1,581.4 713.2,582.4 721.2,577.4 730.3,579.4 739.3,581.0 747.4,581.8 754.4,579.4 763.5,581.4 780.6,583.4 796.7,584.4 804.8,584.0 813.2,577.0 821.9,577.8 830.9,580.4 847.0,582.4 855.1,580.4 863.1,581.4 871.2,582.4 888.3,583.4 897.4,581.4 904.4,571.9 912.5,571.9" fill="none" stroke="#3a66ff" stroke-width="1.15" stroke-linejoin="round"/>
<polyline points="55.0,517.0 55.9,516.7 65.5,512.3 81.3,510.9 95.4,512.6 107.7,514.9 121.7,519.3 137.5,521.4 151.6,521.9 165.6,520.7 178.8,518.8 188.5,523.7 213.0,536.0 230.6,544.8 250.1,552.7 270.3,559.8 290.4,562.4 310.5,562.8 328.7,562.0 346.8,564.4 360.9,564.8 377.0,562.8 395.1,560.4 411.2,561.8 431.3,566.4 453.5,572.5 470.0,573.5 480.1,571.3 500.3,570.7 520.4,571.3 540.5,571.3 560.7,574.8 580.8,578.4 600.9,580.0 621.1,576.4 641.2,571.3 661.3,564.7 681.5,560.3 690.0,559.7 712.1,560.9 730.3,563.3 754.4,566.7 778.6,567.9 804.8,568.3 822.9,571.7 847.0,571.3 871.2,571.3 897.4,571.3 912.5,575.4" fill="none" stroke="#f5316a" stroke-width="1.15" stroke-linejoin="round"/>
</g>
<line x1="338.5" y1="0" x2="338.5" y2="612" stroke="#9598a1" stroke-width="1" stroke-dasharray="4 4"/>
<line x1="55" y1="511.1" x2="1144" y2="511.1" stroke="#9598a1" stroke-width="1" stroke-dasharray="4 4"/>
<g stroke="#e0e3eb" stroke-width="1" shape-rendering="crispEdges">
<line x1="0" y1="340.5" x2="1192" y2="340.5"/>
<line x1="0" y1="497.5" x2="1192" y2="497.5"/>
<line x1="0" y1="612.5" x2="1192" y2="612.5"/>
<line x1="0" y1="636.5" x2="1192" y2="636.5"/>
<line x1="55.5" y1="0" x2="55.5" y2="637"/>
<line x1="1144.5" y1="0" x2="1144.5" y2="637"/>
</g>
<circle cx="913.1" cy="329.4" r="8.2" fill="#fff" stroke="#9c27b0" stroke-width="1.5"/>
<path d="M915.5,325.2 L911.2,330 L914.8,329.2 L910.8,333.6" fill="none" stroke="#9c27b0" stroke-width="1.5" stroke-linejoin="round" stroke-linecap="round"/>
<circle cx="76.9" cy="592" r="14.3" fill="#fff" stroke="#e6e8ee" stroke-width="1"/>
<g fill="#131722"><path d="M68,588.2 h8.5 v9.5 h-3.8 v-5.5 h-4.7z"/><circle cx="78.7" cy="590" r="1.8"/><path d="M82,588.2 h5 l-4.5,9.5 h-4.6z"/></g>
<circle cx="28.5" cy="624.2" r="8.4" fill="#f0f3fa"/>
<path d="M1173.8,10.3 l2.2,2 l2.2,-2" fill="none" stroke="#131722" stroke-width="1.1"/>
</svg>
<div class="t" style="left:64.6px;top:7.6px;font-size:13.5px;letter-spacing:-0.05px;color:#2a2e39">Ethereum / U.S. Dollar · 1W · BITSTAMP</div>
<div style="position:absolute;left:321.9px;top:6.5px;width:15px;height:15px;border-radius:50%;background:rgba(38,166,154,0.15)"></div>
<div style="position:absolute;left:326px;top:10.6px;width:6.8px;height:6.8px;border-radius:50%;background:#089981"></div>
<div class="t" style="left:352.1px;top:9.6px;font-size:11px;color:#434651">O</div>
<div class="t" style="left:360.9px;top:9.6px;font-size:11px;color:#ef5350">3334.57</div>
<div class="t" style="left:406.0px;top:9.6px;font-size:11px;color:#434651">H</div>
<div class="t" style="left:414.2px;top:9.6px;font-size:11px;color:#ef5350">3347.20</div>
<div class="t" style="left:459.6px;top:9.6px;font-size:11px;color:#434651">L</div>
<div class="t" style="left:466.3px;top:9.6px;font-size:11px;color:#ef5350">2650.00</div>
<div class="t" style="left:511.8px;top:9.6px;font-size:11px;color:#434651">C</div>
<div class="t" style="left:519.6px;top:9.6px;font-size:11px;color:#ef5350">3064.32</div>
<div class="t" style="left:565.3px;top:9.6px;font-size:11px;color:#ef5350;letter-spacing:-0.22px">−264.49 (−7.95%)</div>
<div class="lg" style="left:55.8px;top:25px"><span style="color:#b2b5be;letter-spacing:0.1px">Ichimoku 9 26 52 26</span></div>
<div class="lg" style="left:55.8px;top:46px"><span style="color:#b2b5be;letter-spacing:0px">MA 200 close 0</span></div>
<div class="lg" style="left:55.8px;top:67px">EMA 55 close 0<span style="color:#2196f3;margin-left:13px">2028.00</span></div>
<div class="lg" style="left:55.8px;top:88px">EMA 21 close 0<span style="color:#26a69a;margin-left:13px">2795.54</span></div>
<div class="lg" style="left:55.8px;top:109px"><span style="letter-spacing:-0.28px">EMA 200 close 0 SMA 5</span><span style="color:#ff9800;margin-left:12px">944.76</span></div>
<svg style="position:absolute;left:174.2px;top:27.299999999999997px" width="16" height="16" viewBox="0 0 16 16"><path d="M1.5,8 C3.5,4.6 5.6,3.4 8,3.4 C10.4,3.4 12.5,4.6 14.5,8 C12.5,11.4 10.4,12.6 8,12.6 C5.6,12.6 3.5,11.4 1.5,8Z" fill="none" stroke="#131722" stroke-width="1.1"/><circle cx="8" cy="8" r="2.3" fill="none" stroke="#131722" stroke-width="1.1"/><path d="M2.5,13.8 L13.5,2.2" stroke="#131722" stroke-width="1.1"/></svg>
<svg style="position:absolute;left:147.5px;top:48.5px" width="16" height="16" viewBox="0 0 16 16"><path d="M1.5,8 C3.5,4.6 5.6,3.4 8,3.4 C10.4,3.4 12.5,4.6 14.5,8 C12.5,11.4 10.4,12.6 8,12.6 C5.6,12.6 3.5,11.4 1.5,8Z" fill="none" stroke="#131722" stroke-width="1.1"/><circle cx="8" cy="8" r="2.3" fill="none" stroke="#131722" stroke-width="1.1"/><path d="M2.5,13.8 L13.5,2.2" stroke="#131722" stroke-width="1.1"/></svg>
<div class="btn" style="left:64.2px;top:132px;width:25.0px;height:17.30000000000001px"></div>
<svg style="position:absolute;left:70.7px;top:134.65px" width="12" height="12"><path d="M3,7.5 L6,4.5 L9,7.5" fill="none" stroke="#131722" stroke-width="1.3"/></svg>
<div class="t ax" style="left:1152.8px;top:20.7px">5000.00</div>
<div class="t ax" style="left:1152.8px;top:51.0px">4500.00</div>
<div class="t ax" style="left:1152.8px;top:81.6px">4000.00</div>
<div class="t ax" style="left:1152.8px;top:112.2px">3500.00</div>
<div class="t ax" style="left:1152.8px;top:142.6px">3000.00</div>
<div class="t ax" style="left:1152.8px;top:173.0px">2500.00</div>
<div class="t ax" style="left:1152.8px;top:203.6px">2000.00</div>
<div class="t ax" style="left:1152.8px;top:264.1px">1000.00</div>
<div class="t ax" style="left:1152.8px;top:294.8px">500.00</div>
<div class="t ax" style="left:1152.8px;top:325.5px">0.00</div>
<div class="t" style="left:1152.7px;top:5.6px;font-size:11px;transform:scaleX(0.76);transform-origin:0 0;color:#131722">USD</div>
<div style="position:absolute;left:1095.6px;top:227.5px;width:47px;height:14.2px;background:#26a69a;border-radius:1px"></div>
<div class="t" style="left:1099.5px;top:229.6px;font-size:10.5px;font-weight:bold;color:#fff;letter-spacing:-0.2px">ETHUSD</div>
<div style="position:absolute;left:1144px;top:227.5px;width:48px;height:27px;background:#26a69a"></div>
<div class="t" style="left:1152.5px;top:229.6px;font-size:10.5px;font-weight:bold;color:#fff;letter-spacing:-0.2px">1579.40</div>
<div class="t" style="left:1152.5px;top:242px;font-size:10.5px;color:#fff;letter-spacing:-0.1px">4d 15h</div>
<div class="t" style="left:1004px;top:11.7px;font-size:11.3px;transform:scaleX(0.9);transform-origin:0 0;color:#3a3aff">1.618(5139.23)</div>
<div class="t" style="left:1004px;top:65.0px;font-size:11.3px;transform:scaleX(0.9);transform-origin:0 0;color:#7cc21a">1.272(4266.08)</div>
<div class="t" style="left:1004px;top:106.5px;font-size:11.3px;transform:scaleX(0.9);transform-origin:0 0;color:#1a43a8">1(3579.67)</div>
<div class="t" style="left:1004px;top:124.0px;font-size:11.3px;transform:scaleX(0.9);transform-origin:0 0;color:#2f6bff">0.886(3291.99)</div>
<div class="t" style="left:1004px;top:143.1px;font-size:11.3px;transform:scaleX(0.9);transform-origin:0 0;color:#6a30c0">0.764(2984.11)</div>
<div class="t" style="left:1004px;top:165.0px;font-size:11.3px;transform:scaleX(0.9);transform-origin:0 0;color:#6a30c0">0.618(2615.67)</div>
<div class="t" style="left:1004px;top:183.3px;font-size:11.3px;transform:scaleX(0.9);transform-origin:0 0;color:#2f9e44">0.5(2317.89)</div>
<div class="t" style="left:1004px;top:201.9px;font-size:11.3px;transform:scaleX(0.9);transform-origin:0 0;color:#6a30c0">0.382(2020.11)</div>
<div class="t" style="left:1004px;top:223.8px;font-size:11.3px;transform:scaleX(0.9);transform-origin:0 0;color:#2f6bff">0.236(1651.67)</div>
<div class="t ax" style="left:1152.8px;top:381.4px">200.00</div>
<div class="t ax" style="right:1144.2px;top:381.4px;text-align:right">200.00</div>
<div class="t ax" style="left:1152.8px;top:429.5px">0.00</div>
<div class="t ax" style="right:1144.2px;top:429.5px;text-align:right">0.00</div>
<div class="t ax" style="left:1152.8px;top:477.7px">−200.00</div>
<div class="t ax" style="right:1144.2px;top:477.7px;text-align:right">−200.00</div>
<div class="lg" style="left:55.8px;top:345.8px">CCI 50 hlc3 SMA 5<span style="color:#2962ff;margin-left:13px">90.34</span></div>
<div class="lg" style="left:55.8px;top:366.6px">CCI 50 hlc3 SMA 5<span style="color:#2962ff;margin-left:13px">90.34</span></div>
<div class="btn" style="left:65.2px;top:389px;width:23.799999999999997px;height:17.5px"></div>
<svg style="position:absolute;left:71.1px;top:391.75px" width="12" height="12"><path d="M3,7.5 L6,4.5 L9,7.5" fill="none" stroke="#131722" stroke-width="1.3"/></svg>
<div class="t ax" style="left:1152.8px;top:533.7px">50.0000</div>
<div class="t ax" style="left:1152.8px;top:565.7px">25.0000</div>
<div class="t ax" style="left:1152.8px;top:597.6px">0.0000</div>
<div style="position:absolute;left:1144px;top:502.8px;width:48px;height:17px;background:#131722"></div>
<div class="t" style="left:1152.5px;top:505.8px;font-size:10.5px;font-weight:bold;color:#fff;letter-spacing:-0.1px">71.8135</div>
<div class="lg" style="left:55.8px;top:502.6px">DMI 14 14<span style="color:#f50057;margin-left:13px">30.5803</span><span style="color:#2962ff;margin-left:6px">24.4281</span><span style="color:#ff6d00;margin-left:6px">17.9460</span></div>
<div class="btn" style="left:1055.3px;top:504px;width:18px;height:17px;background:#fff"></div>
<svg style="position:absolute;left:1055.3px;top:504px" width="18" height="17"><path d="M9,13 V4.5 M5.5,8 L9,4.5 L12.5,8" fill="none" stroke="#131722" stroke-width="1.05"/></svg>
<div class="btn" style="left:1077px;top:504px;width:18px;height:17px;background:#fff"></div>
<svg style="position:absolute;left:1077px;top:504px" width="18" height="17"><path d="M5,4.5 L13,12.5 M13,4.5 L5,12.5" fill="none" stroke="#131722" stroke-width="1.05"/></svg>
<div class="btn" style="left:1099px;top:504px;width:18px;height:17px;background:#fff"></div>
<svg style="position:absolute;left:1099px;top:504px" width="18" height="17"><path d="M5.5,3.5 L9,6.5 L12.5,3.5 M5.5,13.5 L9,10.5 L12.5,13.5" fill="none" stroke="#131722" stroke-width="1.05"/></svg>
<div class="btn" style="left:1121px;top:504px;width:18px;height:17px;background:#fff"></div>
<svg style="position:absolute;left:1121px;top:504px" width="18" height="17"><path d="M5,7 V5.5 Q5,4 6.5,4 H11.5 Q13,4 13,5.5 V7 M5,10 V11.5 Q5,13 6.5,13 H11.5 Q13,13 13,11.5 V10" fill="none" stroke="#131722" stroke-width="1.05"/></svg>
<div class="t" style="left:98.4px;width:80px;text-align:center;top:618.3px;font-size:11px;color:#131722;font-weight:normal;color:#2a2e39">Apr</div>
<div class="t" style="left:173px;width:80px;text-align:center;top:618.3px;font-size:11px;color:#131722;font-weight:normal;color:#2a2e39">Jun</div>
<div class="t" style="left:423.2px;width:80px;text-align:center;top:618.3px;font-size:11px;color:#131722;font-weight:normal;-webkit-text-stroke:0.35px #131722;letter-spacing:0.2px">2022</div>
<div class="t" style="left:497.79999999999995px;width:80px;text-align:center;top:618.3px;font-size:11px;color:#131722;font-weight:normal;color:#2a2e39">Mar</div>
<div class="t" style="left:607.1px;width:80px;text-align:center;top:618.3px;font-size:11px;color:#131722;font-weight:normal;color:#2a2e39">Jun</div>
<div class="t" style="left:715.2px;width:80px;text-align:center;top:618.3px;font-size:11px;color:#131722;font-weight:normal;color:#2a2e39">Sep</div>
<div class="t" style="left:857.4px;width:80px;text-align:center;top:618.3px;font-size:11px;color:#131722;font-weight:normal;-webkit-text-stroke:0.35px #131722;letter-spacing:0.2px">2023</div>
<div class="t" style="left:931.4px;width:80px;text-align:center;top:618.3px;font-size:11px;color:#131722;font-weight:normal;color:#2a2e39">Mar</div>
<div class="t" style="left:1040px;width:80px;text-align:center;top:618.3px;font-size:11px;color:#131722;font-weight:normal;color:#2a2e39">Jun</div>
<div style="position:absolute;left:296px;top:611.6px;width:84.4px;height:21.2px;background:#131722;border-radius:2px"></div>
<div class="t" style="left:296px;width:84.4px;text-align:center;top:619.8px;font-size:10px;letter-spacing:-0.15px;font-weight:bold;color:#fff">Mon 20 Sep ’21</div>
<div class="t" style="left:24.8px;top:619px;font-size:10.5px;color:#434651">Z</div>
<div style="position:absolute;left:1163.5px;top:615.8px;width:17px;height:17px;border-radius:50%;background:#f0f3fa"></div>
<div class="t" style="left:1163.5px;width:17px;text-align:center;top:619px;font-size:10.5px;color:#434651">A</div>
</body></html>
